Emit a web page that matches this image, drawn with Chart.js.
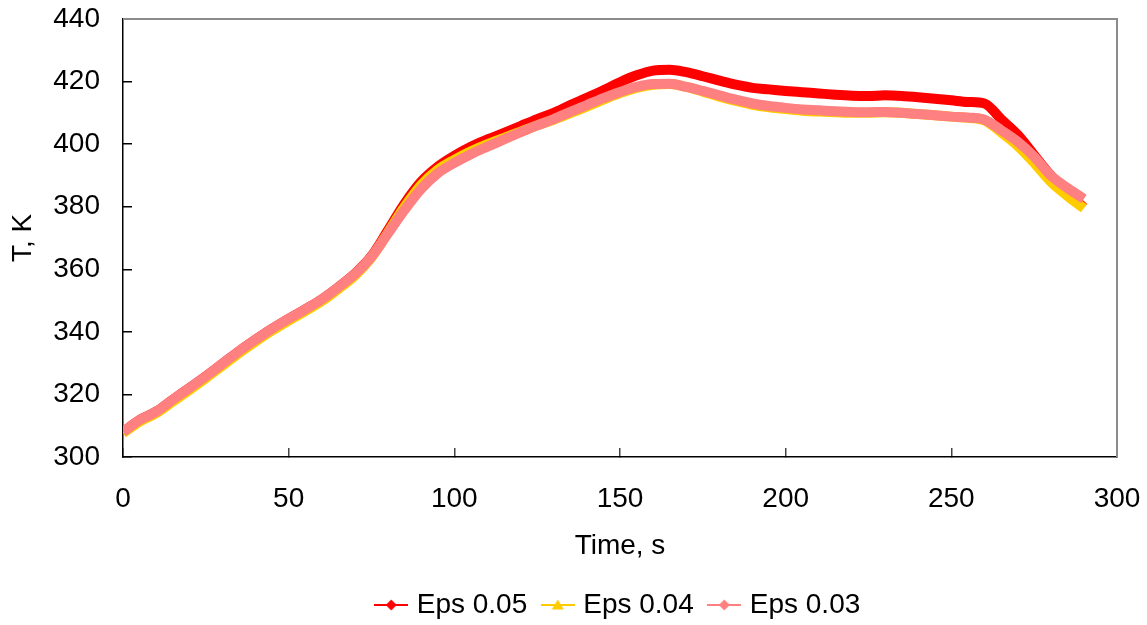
<!DOCTYPE html>
<html>
<head>
<meta charset="utf-8">
<script src="https://cdn.jsdelivr.net/npm/chart.js@4.4.1/dist/chart.umd.min.js"></script>
<style>
    html, body { margin: 0; padding: 0; background: #fff; }
    #box { width: 1147px; height: 625px; }
</style>
</head>
<body>
<div id="box"><canvas id="grafico"></canvas></div>
<script>
// time, s
const tempos = [0, 5, 10, 15, 20, 25, 30, 35, 40, 45, 50, 55, 60, 65, 70, 75, 80, 85, 90, 95,
    100, 105, 110, 115, 120, 125, 130, 135, 140, 145, 150, 155, 160, 165, 170, 175, 180, 185, 190, 195,
    200, 205, 210, 215, 220, 225, 230, 235, 240, 245, 250, 255, 260, 265, 270, 275, 280, 285, 290];

// T, K
const eps005 = [308.0, 311.8, 314.5, 318.3, 322.0, 325.8, 329.8, 333.8, 337.5, 341.0, 344.2, 347.2, 350.4, 354.3, 358.6, 364.2, 372.5, 381.0, 388.0, 392.8,
    396.3, 399.2, 401.5, 403.6, 405.8, 408.0, 410.0, 412.5, 414.8, 417.2, 419.8, 422.0, 423.5, 423.8, 423.0, 421.7, 420.3, 419.0, 418.0, 417.5,
    417.0, 416.6, 416.2, 415.8, 415.5, 415.4, 415.6, 415.4, 415.0, 414.5, 414.0, 413.5, 413.0, 408.0, 403.0, 396.5, 390.0, 384.5, 379.7];

const eps004 = [307.6, 311.3, 314.0, 317.7, 321.4, 325.2, 329.2, 333.2, 336.9, 340.4, 343.6, 346.6, 349.8, 353.7, 358.0, 363.8, 371.8, 380.0, 387.0, 391.8,
    395.0, 397.7, 400.0, 402.0, 404.0, 406.0, 407.8, 409.9, 412.0, 414.2, 416.3, 418.0, 419.0, 419.2, 418.3, 416.8, 415.2, 413.8, 412.6, 411.8,
    411.2, 410.7, 410.4, 410.2, 410.0, 410.0, 410.2, 410.0, 409.6, 409.2, 408.8, 408.4, 407.6, 403.8, 399.5, 394.0, 388.0, 383.5, 379.5];

const eps003 = [308.0, 311.8, 314.5, 318.3, 322.0, 325.8, 329.8, 333.8, 337.5, 341.0, 344.2, 347.2, 350.4, 354.3, 358.5, 364.0, 371.5, 379.0, 385.7, 390.7,
    394.0, 396.8, 399.2, 401.5, 403.8, 406.0, 408.0, 410.3, 412.5, 414.7, 416.7, 418.3, 419.2, 419.3, 418.3, 417.0, 415.6, 414.2, 413.0, 412.2,
    411.6, 411.1, 410.8, 410.5, 410.3, 410.2, 410.3, 410.0, 409.6, 409.2, 408.8, 408.5, 407.8, 404.5, 400.8, 396.0, 390.0, 386.0, 382.5];

const nomes = ['Eps 0.05', 'Eps 0.04', 'Eps 0.03'];
const cores = ['#FF0000', '#FFCC00', '#FF8080'];
const marcadores = ['diamante', 'triangulo', 'diamante'];

const ticksX = [0, 50, 100, 150, 200, 250, 300];
const ticksY = [300, 320, 340, 360, 380, 400, 420, 440];

const fonte = { family: "'Liberation Sans', Arial, sans-serif", size: 28 };

function pontos(valores) {
    return tempos.map((t, i) => ({ x: t, y: valores[i] }));
}

// small line + marker picture for the legend
function iconeLegenda(cor, tipo) {
    const c = document.createElement('canvas');
    c.width = 34;
    c.height = 14;
    const ctx = c.getContext('2d');
    ctx.strokeStyle = cor;
    ctx.lineWidth = 2;
    ctx.beginPath();
    ctx.moveTo(0, 7);
    ctx.lineTo(34, 7);
    ctx.stroke();
    ctx.fillStyle = cor;
    ctx.beginPath();
    if (tipo === 'triangulo') {
        ctx.moveTo(17, 1.5);
        ctx.lineTo(23, 11.5);
        ctx.lineTo(11, 11.5);
    } else {
        ctx.moveTo(17, 1.5);
        ctx.lineTo(22.5, 7);
        ctx.lineTo(17, 12.5);
        ctx.lineTo(11.5, 7);
    }
    ctx.closePath();
    ctx.fill();
    return c;
}

const icones = cores.map((cor, i) => iconeLegenda(cor, marcadores[i]));

const moldura = {
    id: 'moldura',
    afterDraw(chart) {
        const { ctx, chartArea } = chart;
        ctx.save();
        ctx.strokeStyle = '#8c8c8c';
        ctx.lineWidth = 2;
        ctx.beginPath();
        ctx.moveTo(chartArea.left, chartArea.top);
        ctx.lineTo(chartArea.right, chartArea.top);
        ctx.lineTo(chartArea.right, chartArea.bottom);
        ctx.stroke();
        ctx.restore();
    }
};

// labels are placed by hand, so the scales must not push the plot inwards
function semFolga(scale) {
    scale.paddingTop = 0;
    scale.paddingBottom = 0;
    scale.paddingLeft = 0;
    scale.paddingRight = 0;
}

const series = [eps005, eps004, eps003];

new Chart(document.getElementById('grafico'), {
    type: 'line',
    data: {
        datasets: series.map((valores, i) => ({
            label: nomes[i],
            data: pontos(valores),
            borderColor: cores[i],
            backgroundColor: cores[i],
            borderWidth: 10,
            pointRadius: 0,
            cubicInterpolationMode: 'monotone',
            order: 3 - i
        }))
    },
    options: {
        responsive: true,
        maintainAspectRatio: false,
        animation: false,
        layout: { padding: { top: 19, right: 30, bottom: -4, left: 0 } },
        plugins: {
            tooltip: { enabled: false },
            legend: {
                position: 'bottom',
                fullSize: false,
                labels: {
                    usePointStyle: true,
                    pointStyleWidth: 23,
                    padding: 19,
                    color: '#000',
                    font: fonte,
                    sort: (a, b) => a.datasetIndex - b.datasetIndex,
                    generateLabels(chart) {
                        const itens = Chart.defaults.plugins.legend.labels.generateLabels(chart);
                        itens.forEach(item => { item.pointStyle = icones[item.datasetIndex]; });
                        return itens;
                    }
                }
            }
        },
        scales: {
            x: {
                type: 'linear',
                min: 0,
                max: 300,
                afterBuildTicks(scale) { scale.ticks = ticksX.map(v => ({ value: v })); },
                afterFit(scale) { scale.height = 115; semFolga(scale); },
                ticks: { color: '#000', font: fonte, padding: 34, maxRotation: 0 },
                grid: { drawOnChartArea: false, tickLength: -9, color: '#444', lineWidth: 1.5 },
                border: { color: '#000', width: 1.5 },
                title: { display: true, text: 'Time, s', color: '#000', font: fonte, padding: { top: 0, bottom: 9 } }
            },
            y: {
                min: 300,
                max: 440,
                afterBuildTicks(scale) { scale.ticks = ticksY.map(v => ({ value: v })); },
                afterFit(scale) { scale.width = 123; semFolga(scale); },
                ticks: { color: '#000', font: fonte, padding: 32 },
                grid: { drawOnChartArea: false, tickLength: -9, color: '#000', lineWidth: 1.5 },
                border: { color: '#000', width: 1.5 },
                title: { display: true, text: 'T, K', color: '#000', font: fonte, padding: { top: 6, bottom: 0 } }
            }
        }
    },
    plugins: [moldura]
});
</script>
</body>
</html>
